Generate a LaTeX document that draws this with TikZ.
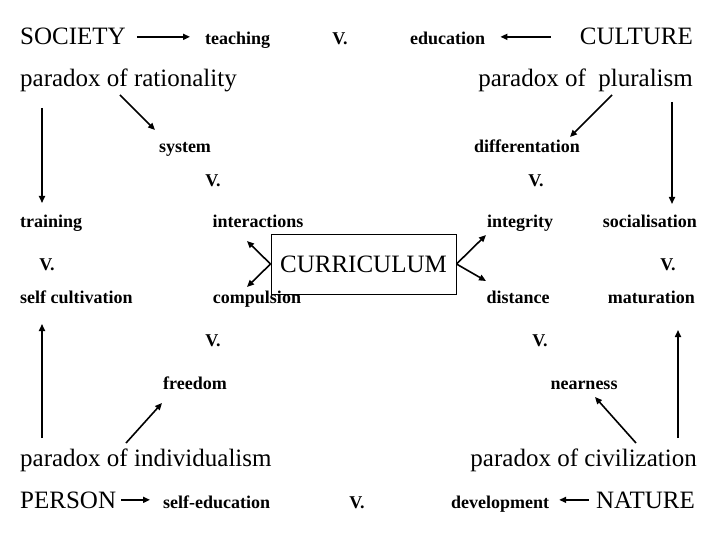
\documentclass[tikz,border=0pt]{standalone}
\usepackage{fontspec}
\setmainfont{Liberation Serif}
\usetikzlibrary{arrows.meta}
\begin{document}
\begin{tikzpicture}[x=1pt,y=-1pt,
    big/.style={inner sep=0pt,font=\fontsize{25}{30}\selectfont},
    small/.style={inner sep=0pt,font=\fontsize{18}{22}\selectfont\bfseries},
    arr/.style={line width=1.6pt,-{Triangle[length=7pt,width=6pt]}}]
  \useasboundingbox (0,0) rectangle (720,540);
  % large words
  \foreach \n/\a/\x/\y/\t in {society/base west/20/45/SOCIETY, culture/base east/693/45/CULTURE,
      rationality/base west/20/87/paradox of rationality, pluralism/base east/693/87/paradox of~\ pluralism,
      individualism/base west/20/466/paradox of individualism, civilization/base east/697/466/paradox of civilization,
      person/base west/20/508/PERSON, nature/base east/695/508/NATURE}{
    \node[big,anchor=\a] (\n) at (\x,\y) {\t};
  }
  % small words
  \foreach \n/\a/\x/\y/\t in {teaching/base west/205/45/teaching, education/base west/410/45/education,
      system/base/185/153/system, differentation/base/527/153/differentation,
      training/base west/20/227/training, interactions/base/258/227/interactions,
      integrity/base/520/227/integrity, socialisation/base east/697/227/socialisation,
      selfcult/base west/20/303/self cultivation, compulsion/base/257/303/compulsion,
      distance/base/518/303/distance, maturation/base east/695/303/maturation,
      freedom/base/195/389/freedom, nearness/base/584/389/nearness,
      selfedu/base west/163/508/self-education, development/base/500/508/development}{
    \node[small,anchor=\a] (\n) at (\x,\y) {\t};
  }
  % the V. marks
  \foreach \i/\x/\y in {1/340/45, 2/213/187, 3/536/187, 4/47/270, 5/668/270, 6/213/346, 7/540/346, 8/357/508}{
    \node[small,anchor=base] (v\i) at (\x,\y) {V.};
  }
  \node[draw,line width=1pt,minimum width=185pt,minimum height=60pt,inner sep=0pt,
    font=\fontsize{25}{30}\selectfont] (curriculum) at (363.5,264) {CURRICULUM};

  % arrow ends
  \foreach \n/\x/\y in {r1/120/95, r2/155/130, p1/612/95, p2/570/137,
      dl1/42/108, dl2/42/203, dr1/672/102, dr2/672/204,
      ul1/42/438, ul2/42/324, ur1/678/438, ur2/678/330,
      i1/126/443, i2/162/403, c1/636/443, c2/595/397,
      kl1/247/241, kl2/247/287, kr1/486/235, kr2/486/281}{
    \coordinate (\n) at (\x,\y);
  }
  \draw[arr,shorten <=11pt,shorten >=15pt] (society.east) -- (society.east -| teaching.west);
  \draw[arr,shorten <=29pt,shorten >=15pt] (culture.west) -- (culture.west -| education.east);
  \draw[arr,shorten <=5pt,shorten >=13pt] (person.east) -- (person.east -| selfedu.west);
  \draw[arr,shorten <=7pt,shorten >=10pt] (nature.west) -- (nature.west -| development.east);
  \draw[arr] (r1) -- (r2);
  \draw[arr] (p1) -- (p2);
  \draw[arr] (dl1) -- (dl2);
  \draw[arr] (dr1) -- (dr2);
  \draw[arr] (ul1) -- (ul2);
  \draw[arr] (ur1) -- (ur2);
  \draw[arr] (i1) -- (i2);
  \draw[arr] (c1) -- (c2);
  \draw[arr] (curriculum.west) -- (kl1);
  \draw[arr] (curriculum.west) -- (kl2);
  \draw[arr] (curriculum.east) -- (kr1);
  \draw[arr] (curriculum.east) -- (kr2);
\end{tikzpicture}
\end{document}
